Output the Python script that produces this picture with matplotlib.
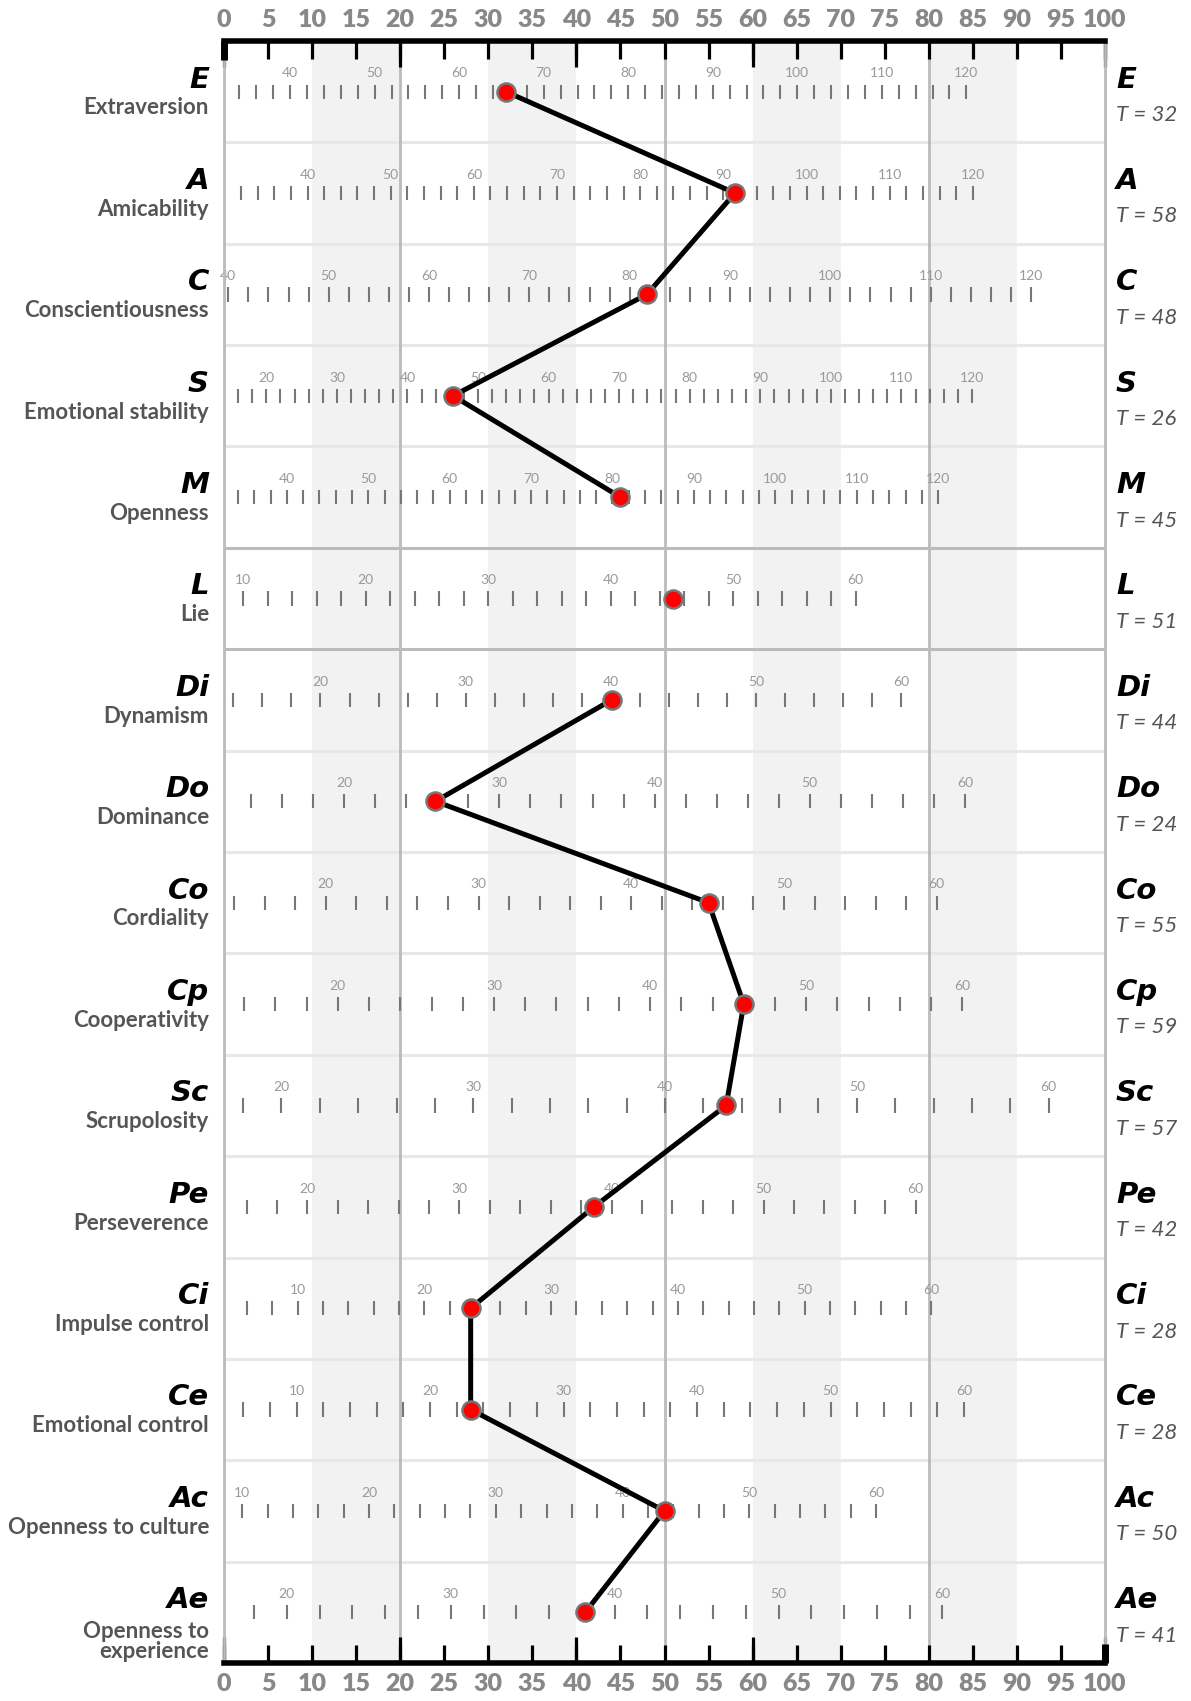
import matplotlib
matplotlib.use("Agg")
import matplotlib.pyplot as plt
import matplotlib.transforms as mtransforms
import numpy as np

# scale codes, names, T scores
codes = ["E", "A", "C", "S", "M", "L", "Di", "Do", "Co", "Cp", "Sc", "Pe", "Ci", "Ce", "Ac", "Ae"]
names = ["Extraversion", "Amicability", "Conscientiousness", "Emotional stability", "Openness",
         "Lie", "Dynamism", "Dominance", "Cordiality", "Cooperativity", "Scrupolosity",
         "Perseverence", "Impulse control", "Emotional control", "Openness to culture",
         "Openness to\nexperience"]
t_scores = [32, 58, 48, 26, 45, 51, 44, 24, 55, 59, 57, 42, 28, 28, 50, 41]

# raw score range of each row and the T value at both ends
raw_min = [34, 32, 40, 16, 34, 10, 14, 14, 14, 14, 18, 16, 6, 6, 10, 18]
raw_max = [120, 120, 120, 120, 120, 60, 60, 60, 60, 60, 60, 60, 60, 60, 60, 60]
t_at_min = [1.75, 1.93, 0.49, 1.6, 1.59, 2.2, 1.06, 3.08, 1.16, 2.29, 2.17, 2.57, 2.6, 2.18, 2.09, 3.41]
t_at_max = [84.26, 85.0, 91.6, 84.9, 81.06, 71.7, 76.9, 84.1, 80.9, 83.8, 93.6, 78.5, 80.3, 84.0, 74.0, 81.55]
raw_step = 2

# line groups (L stands alone)
groups = [[0, 1, 2, 3, 4], [5], list(range(6, 16))]

bands = [(10, 20), (30, 40), (60, 70), (80, 90)]
vlines_at = [20, 50, 80]

fig = plt.figure(figsize=(11.91, 17.01), dpi=100)
ax = fig.add_axes([224 / 1191, 1 - 1663 / 1701, 881 / 1191, 1622 / 1701])
n = len(codes)
ax.set_xlim(0, 100)
ax.set_ylim(n, 0)

for a, b in bands:
    ax.axvspan(a, b, color="#f2f2f2", zorder=0, lw=0)

for i in range(1, n):
    if i in (5, 6):
        ax.axhline(i, color="#bbbbbb", lw=2.2, zorder=1)
    else:
        ax.axhline(i, color="#e8e8e8", lw=2.2, zorder=1)
for x in vlines_at:
    ax.axvline(x, color="#bbbbbb", lw=2, zorder=1)

# per-row raw scales
for i in range(n):
    raws = np.arange(raw_min[i], raw_max[i] + 0.1, raw_step)
    slope = (t_at_max[i] - t_at_min[i]) / (raw_max[i] - raw_min[i])
    tx = t_at_min[i] + (raws - raw_min[i]) * slope
    ax.vlines(tx, i + 0.43, i + 0.57, color="#777777", lw=1.5, zorder=2)
    for r, x in zip(raws, tx):
        if r % 10 == 0:
            ax.text(x, i + 0.32, str(int(r)), ha="center", va="center",
                    fontsize=10, color="#999999", family="Lato", zorder=2)

# profile lines and points
ys = np.arange(n) + 0.5
for g in groups:
    ax.plot([t_scores[k] for k in g], [ys[k] for k in g], color="black", lw=3.6, zorder=3,
            solid_capstyle="round")
ax.plot(t_scores, ys, "o", ms=13, mfc="red", mec="#777777", mew=1.8, ls="none", zorder=4)

# side labels
trans = mtransforms.blended_transform_factory(ax.transAxes, ax.transData)
for i in range(n):
    ax.text(-0.017, i + 0.38, codes[i], transform=trans, ha="right", va="center",
            fontsize=21, fontweight="heavy", style="italic", color="black")
    if "\n" in names[i]:
        ax.text(-0.017, i + 0.79, names[i], transform=trans, ha="right", va="center",
                fontsize=16, fontweight="bold", color="#555555", family="Lato",
                linespacing=0.95)
    else:
        ax.text(-0.017, i + 0.66, names[i], transform=trans, ha="right", va="center",
                fontsize=16, fontweight="bold", color="#555555", family="Lato")
    ax.text(1.0125, i + 0.38, codes[i], transform=trans, ha="left", va="center",
            fontsize=21, fontweight="heavy", style="italic", color="black")
    ax.text(1.0125, i + 0.73, "T = %d" % t_scores[i], transform=trans, ha="left", va="center",
            fontsize=16, style="italic", color="#555555", family="Lato")

# top and bottom T axes
ax.xaxis.remove_overlapping_locs = False
ax.set_xticks(np.arange(0, 101, 5))
ax.set_xticks([0, 20, 40, 60, 100], minor=True)
ax.set_yticks([])
ax.tick_params(axis="x", which="major", direction="in", top=True, bottom=True,
               labeltop=True, labelbottom=True, length=13, width=2.3, color="black",
               labelsize=18, labelcolor="#888888", pad=7)
ax.tick_params(axis="x", which="minor", direction="in", top=True, bottom=True,
               length=19, width=2.3, color="black")
for lab in ax.get_xticklabels():
    lab.set_fontweight("heavy")
    lab.set_family("Lato")
for s in ("top", "bottom"):
    ax.spines[s].set_linewidth(4)
    ax.spines[s].set_color("black")
for s in ("left", "right"):
    ax.spines[s].set_linewidth(2)
    ax.spines[s].set_color("#bbbbbb")
# thick end ticks
ax.vlines([0, 100], [0, n], [0.19, n - 0.19], color="black", lw=5, zorder=5, clip_on=False)

fig.savefig("out.png", dpi=100)
